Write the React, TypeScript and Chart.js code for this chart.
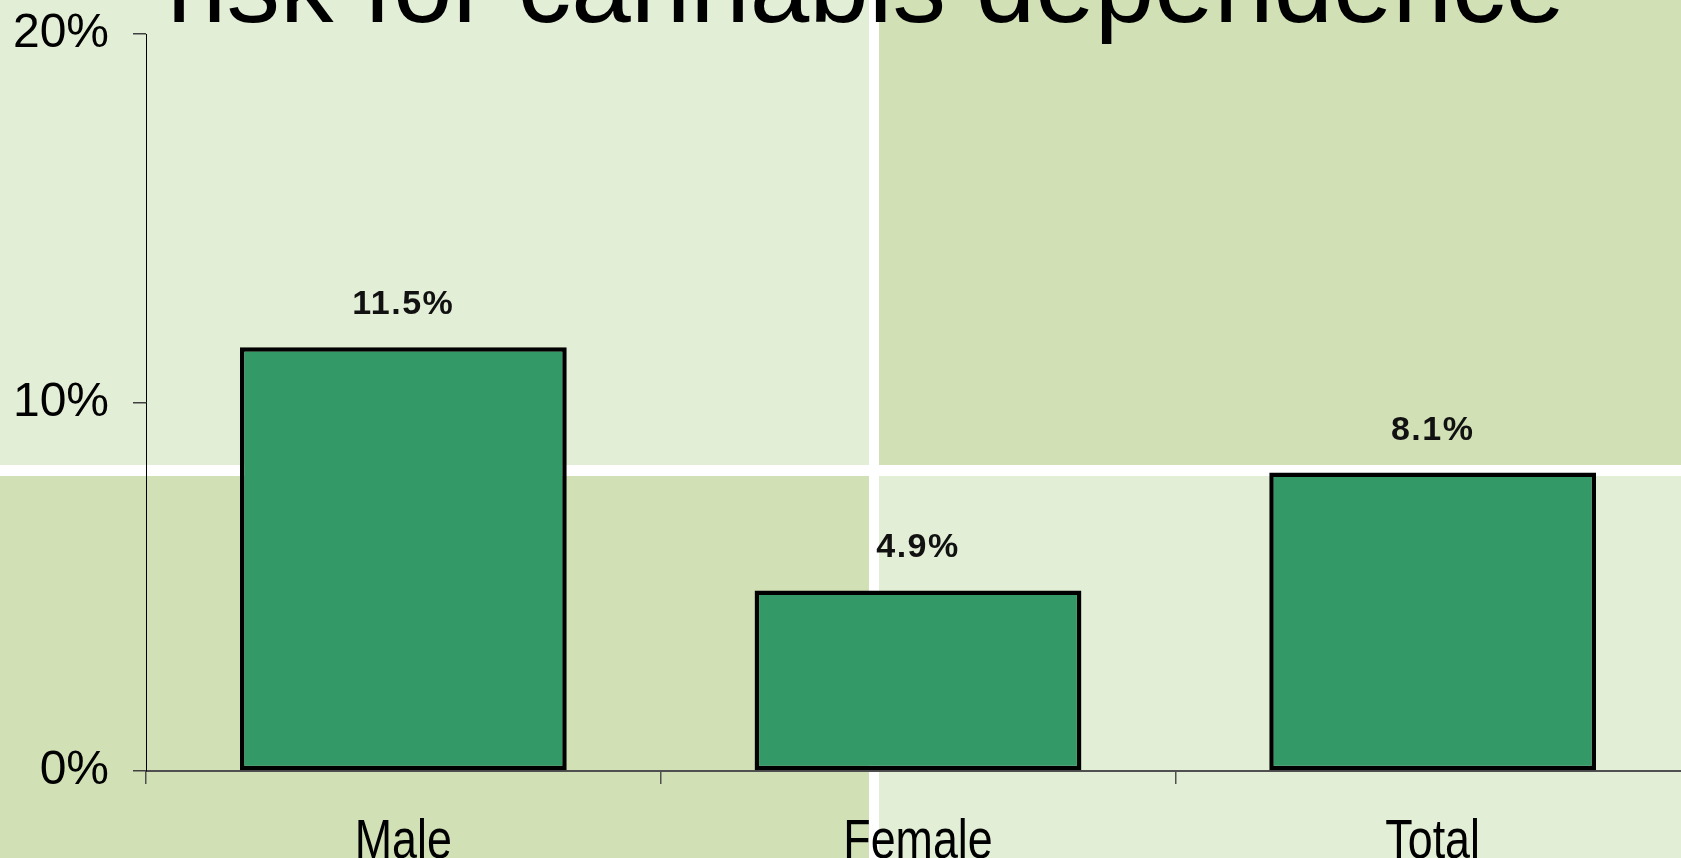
import React, { useEffect, useRef } from "react";
import { Chart, registerables } from "chart.js";

Chart.register(...registerables);

const categories = ["Male", "Female", "Total"];
const values = [11.5, 4.9, 8.1];
const yTicks = [0, 10, 20];
const titleText = "risk for cannabis dependence";

const LIGHT = "#E3EED6";
const DARK = "#D1E1B5";
const BAR = "#339966";

const backgroundPlugin = {
  id: "quadBackground",
  beforeDraw(chart: any) {
    const ctx = chart.ctx;
    const w = chart.width;
    const h = chart.height;
    const vx = 869;
    const vw = 10;
    const hy = 465;
    const hh = 11;
    ctx.save();
    ctx.fillStyle = "#FFFFFF";
    ctx.fillRect(0, 0, w, h);
    ctx.fillStyle = LIGHT;
    ctx.fillRect(0, 0, vx, hy);
    ctx.fillStyle = DARK;
    ctx.fillRect(vx + vw, 0, w - vx - vw, hy);
    ctx.fillStyle = DARK;
    ctx.fillRect(0, hy + hh, vx, h - hy - hh);
    ctx.fillStyle = LIGHT;
    ctx.fillRect(vx + vw, hy + hh, w - vx - vw, h - hy - hh);
    // title (cut off at top)
    ctx.fillStyle = "#000";
    ctx.font = "107px 'Liberation Sans', Arial, sans-serif";
    ctx.textAlign = "center";
    ctx.textBaseline = "alphabetic";
    ctx.fillText(titleText, 866, 22);
    ctx.restore();
  },
};

const categoryLabelPlugin = {
  id: "categoryLabels",
  afterDraw(chart: any) {
    const ctx = chart.ctx;
    const xs = chart.scales.x;
    ctx.save();
    ctx.fillStyle = "#000";
    ctx.font = "56px 'Liberation Sans', Arial, sans-serif";
    ctx.textAlign = "center";
    ctx.textBaseline = "alphabetic";
    const sx = 0.8;
    categories.forEach((c, i) => {
      const px = xs.getPixelForValue(i);
      ctx.save();
      ctx.translate(px, chart.chartArea.bottom + 87);
      ctx.scale(sx, 1);
      ctx.fillText(c, 0, 0);
      ctx.restore();
    });
    ctx.restore();
  },
};

const valueLabelPlugin = {
  id: "valueLabels",
  afterDatasetsDraw(chart: any) {
    const ctx = chart.ctx;
    const meta = chart.getDatasetMeta(0);
    ctx.save();
    ctx.fillStyle = "#111";
    ctx.font = "bold 34px 'Liberation Sans', Arial, sans-serif";
    ctx.textAlign = "center";
    ctx.textBaseline = "alphabetic";
    try {
      (ctx as any).letterSpacing = "1.5px";
    } catch (e) {}
    meta.data.forEach((bar: any, i: number) => {
      const v = chart.data.datasets[0].data[i] as number;
      ctx.fillText(v.toFixed(1) + "%", bar.x, bar.y - 33);
    });
    ctx.restore();
  },
};

export default function App() {
  const canvasRef = useRef<HTMLCanvasElement | null>(null);

  useEffect(() => {
    if (!canvasRef.current) return;
    const chart = new Chart(canvasRef.current, {
      type: "bar",
      data: {
        labels: categories,
        datasets: [
          {
            data: values,
            backgroundColor: BAR,
            borderColor: "#000",
            borderWidth: 4.5,
            borderSkipped: false,
            barPercentage: 0.635,
            categoryPercentage: 1,
          },
        ],
      },
      options: {
        animation: false,
        responsive: true,
        maintainAspectRatio: false,
        layout: { padding: { top: 34, left: 0, right: 0, bottom: 0 } },
        plugins: {
          legend: { display: false },
          title: { display: false },
          tooltip: { enabled: false },
        },
        scales: {
          x: {
            grid: {
              display: true,
              drawOnChartArea: false,
              drawTicks: true,
              tickLength: 13,
              color: "#505050",
              lineWidth: 1.5,
              offset: true,
            },
            border: { display: true, color: "#505050", width: 2 },
            ticks: {
              display: false,
            },
            afterFit(scale: any) {
              scale.height = 87;
              scale.paddingLeft = 0;
              scale.paddingRight = 0;
            },
          },
          y: {
            min: yTicks[0],
            max: yTicks[yTicks.length - 1],
            afterBuildTicks(scale: any) {
              scale.ticks = yTicks.map((v) => ({ value: v }));
            },
            grid: {
              display: true,
              drawOnChartArea: false,
              drawTicks: true,
              tickLength: 13,
              color: "#404040",
              lineWidth: 1.5,
            },
            border: { display: true, color: "#000", width: 1 },
            ticks: {
              color: "#000",
              padding: 24,
              font: { family: "'Liberation Sans', Arial, sans-serif", size: 48 },
              callback: (v: any) => v + "%",
            },
            afterFit(scale: any) {
              scale.width = 146;
              scale.paddingTop = 0;
              scale.paddingBottom = 0;
            },
          },
        },
      },
      plugins: [backgroundPlugin, valueLabelPlugin, categoryLabelPlugin],
    });
    return () => chart.destroy();
  }, []);

  return (
    <div
      style={{
        position: "absolute",
        left: 0,
        top: 0,
        width: 1681,
        height: 858,
        overflow: "hidden",
      }}
    >
      <div style={{ position: "relative", width: 1690, height: 858 }}>
        <canvas ref={canvasRef} />
      </div>
    </div>
  );
}
